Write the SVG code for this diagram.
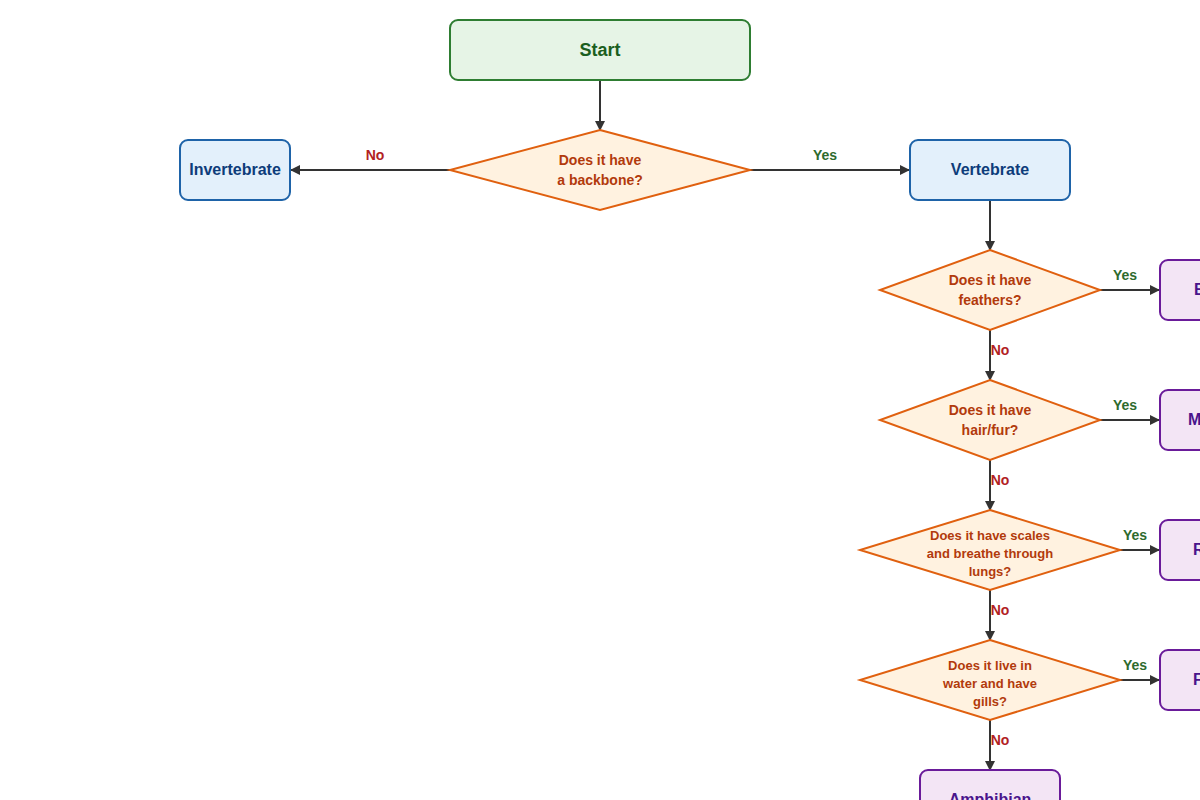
<svg xmlns="http://www.w3.org/2000/svg" width="1200" height="800" viewBox="0 0 1200 800">
<defs>
<marker id="ah" markerWidth="10" markerHeight="10" refX="9" refY="5" orient="auto" markerUnits="userSpaceOnUse"><path d="M0,0 L10,5 L0,10 z" fill="#333"/></marker>
<style>
text{font-family:"Liberation Sans",Arial,sans-serif;font-weight:bold}
.start{fill:#e6f4e6;stroke:#2e7d32;stroke-width:2}
.cat{fill:#e3f0fb;stroke:#1e63a8;stroke-width:2}
.leaf{fill:#f3e5f5;stroke:#6a1b9a;stroke-width:2}
.dec{fill:#fff2e0;stroke:#e0600f;stroke-width:2}
.t16{font-size:16px}
.dt{font-size:14px;fill:#b23a0c;text-anchor:middle}
.ds{font-size:13px;fill:#b23a0c;text-anchor:middle}
.c line{stroke:#333;stroke-width:2;marker-end:url(#ah)}
.yes{fill:#2e6b2e;font-size:14px;text-anchor:middle}
.no{fill:#b22222;font-size:14px;text-anchor:middle}
</style>
</defs>
<rect width="1200" height="800" fill="#fff"/>
<g class="c" id="connectors">
<line x1="600" y1="80" x2="600" y2="130"/>
<line x1="450" y1="170" x2="291" y2="170"/>
<line x1="750" y1="170" x2="909" y2="170"/>
<line x1="990" y1="200" x2="990" y2="250"/>
<line x1="1100" y1="290" x2="1159" y2="290"/>
<line x1="990" y1="330" x2="990" y2="380"/>
<line x1="1100" y1="420" x2="1159" y2="420"/>
<line x1="990" y1="460" x2="990" y2="510"/>
<line x1="1120" y1="550" x2="1159" y2="550"/>
<line x1="990" y1="590" x2="990" y2="640"/>
<line x1="1120" y1="680" x2="1159" y2="680"/>
<line x1="990" y1="720" x2="990" y2="770"/>
<text class="no" x="375" y="160">No</text>
<text class="yes" x="825" y="160">Yes</text>
<text class="yes" x="1125" y="280">Yes</text>
<text class="no" x="1000" y="355">No</text>
<text class="yes" x="1125" y="410">Yes</text>
<text class="no" x="1000" y="485">No</text>
<text class="yes" x="1135" y="540">Yes</text>
<text class="no" x="1000" y="615">No</text>
<text class="yes" x="1135" y="670">Yes</text>
<text class="no" x="1000" y="745">No</text>
</g>
<g id="start"><rect class="start" x="450" y="20" width="300" height="60" rx="8"/><text x="600" y="56" text-anchor="middle" fill="#1b5e20" font-size="18">Start</text></g>
<g id="q1"><polygon class="dec" points="600,130 750,170 600,210 450,170"/><text class="dt" x="600" y="165">Does it have</text><text class="dt" x="600" y="185">a backbone?</text></g>
<g id="invertebrate"><rect class="cat" x="180" y="140" width="110" height="60" rx="8"/><text class="t16" x="235" y="175" text-anchor="middle" fill="#0d3c7a">Invertebrate</text></g>
<g id="vertebrate"><rect class="cat" x="910" y="140" width="160" height="60" rx="8"/><text class="t16" x="990" y="175" text-anchor="middle" fill="#0d3c7a">Vertebrate</text></g>
<g id="q2"><polygon class="dec" points="990,250 1100,290 990,330 880,290"/><text class="dt" x="990" y="285">Does it have</text><text class="dt" x="990" y="305">feathers?</text></g>
<g id="q3"><polygon class="dec" points="990,380 1100,420 990,460 880,420"/><text class="dt" x="990" y="415">Does it have</text><text class="dt" x="990" y="435">hair/fur?</text></g>
<g id="q4"><polygon class="dec" points="990,510 1120,550 990,590 860,550"/><text class="ds" x="990" y="540">Does it have scales</text><text class="ds" x="990" y="558">and breathe through</text><text class="ds" x="990" y="576">lungs?</text></g>
<g id="q5"><polygon class="dec" points="990,640 1120,680 990,720 860,680"/><text class="ds" x="990" y="670">Does it live in</text><text class="ds" x="990" y="688">water and have</text><text class="ds" x="990" y="706">gills?</text></g>
<g id="bird"><rect class="leaf" x="1160" y="260" width="140" height="60" rx="8"/><text class="t16" x="1194" y="295" fill="#4a148c">Bird</text></g>
<g id="mammal"><rect class="leaf" x="1160" y="390" width="140" height="60" rx="8"/><text class="t16" x="1188" y="425" fill="#4a148c">Mammal</text></g>
<g id="reptile"><rect class="leaf" x="1160" y="520" width="140" height="60" rx="8"/><text class="t16" x="1193" y="555" fill="#4a148c">Reptile</text></g>
<g id="fish"><rect class="leaf" x="1160" y="650" width="140" height="60" rx="8"/><text class="t16" x="1193" y="685" fill="#4a148c">Fish</text></g>
<g id="amphibian"><rect class="leaf" x="920" y="770" width="140" height="60" rx="8"/><text class="t16" x="990" y="805" text-anchor="middle" fill="#4a148c">Amphibian</text></g>
</svg>
